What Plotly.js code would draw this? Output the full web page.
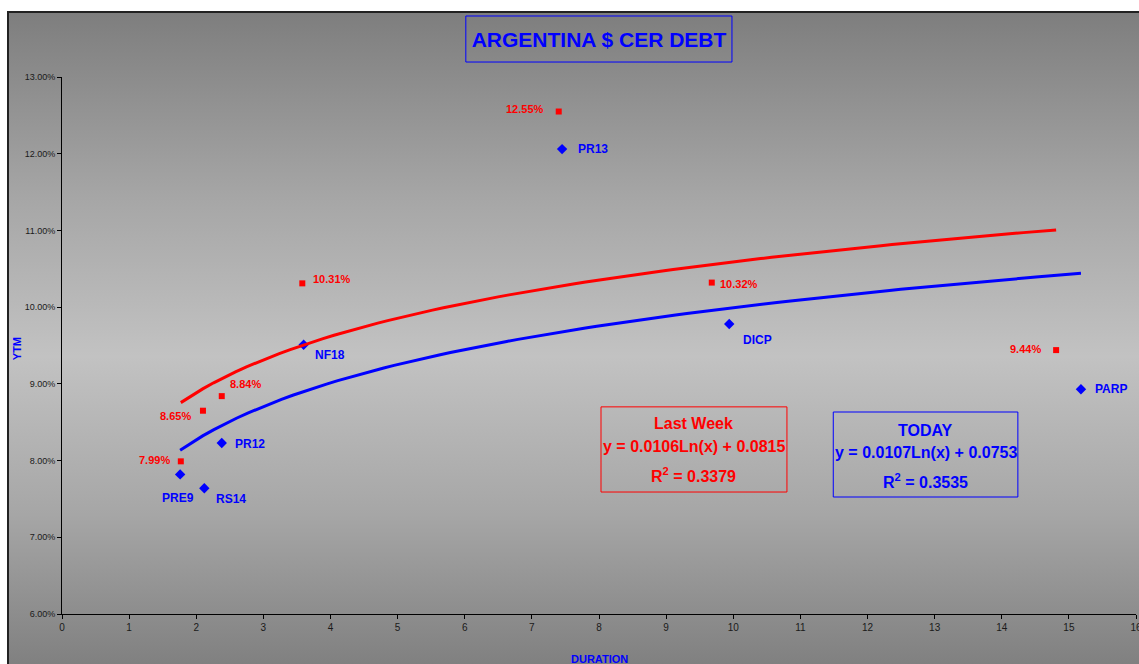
<!DOCTYPE html>
<html>
<head>
<meta charset="utf-8">
<script src="https://cdn.plot.ly/plotly-3.0.1.min.js"></script>
<style>
  html, body { margin: 0; padding: 0; background: #ffffff; overflow: hidden; }
  #frame {
    position: absolute; left: 7px; top: 11px; width: 1150px; height: 660px;
    border-left: 2px solid #222222; border-top: 2px solid #222222;
    background: linear-gradient(to bottom, #7e7e7e 0%, #a6a6a6 28%, #c2c2c2 52%, #a6a6a6 76%, #7e7e7e 100%);
  }
  #chart { position: absolute; left: 0; top: 0; width: 1139px; height: 664px; }
</style>
</head>
<body>
<div id="frame"></div>
<div id="chart"></div>
<script>
// Bonds priced today (duration in years, yield to maturity)
const bondNames = ['PRE9', 'RS14', 'PR12', 'NF18', 'PR13', 'DICP', 'PARP'];
const durationToday = [1.76, 2.12, 2.38, 3.60, 7.45, 9.94, 15.18];
const ytmToday = [0.0782, 0.0764, 0.0823, 0.0951, 0.1206, 0.0978, 0.0893];

// Same bonds one week earlier
const durationLastWeek = [1.77, 2.10, 2.38, 3.58, 7.40, 9.68, 14.81];
const ytmLastWeek = [0.0799, 0.0865, 0.0884, 0.1031, 0.1255, 0.1032, 0.0944];

// Logarithmic trend lines: y = slope * ln(x) + intercept
const slopeToday = 0.0107, interceptToday = 0.0753, r2Today = 0.3535;
const slopeLastWeek = 0.0106, interceptLastWeek = 0.0815, r2LastWeek = 0.3379;

const xTicks = [0, 1, 2, 3, 4, 5, 6, 7, 8, 9, 10, 11, 12, 13, 14, 15, 16];

const BLUE = '#0000ff';
const RED = '#ff0000';
const FONT = 'Arial, "Liberation Sans", sans-serif';

function logCurve(xs, slope, intercept) {
  const lo = Math.min(...xs), hi = Math.max(...xs);
  const px = [], py = [];
  const n = 80;
  for (let i = 0; i <= n; i++) {
    const x = lo + (hi - lo) * i / n;
    px.push(x);
    py.push(slope * Math.log(x) + intercept);
  }
  return { x: px, y: py };
}

const curveToday = logCurve(durationToday, slopeToday, interceptToday);
const curveLastWeek = logCurve(durationLastWeek, slopeLastWeek, interceptLastWeek);

const traces = [
  {
    x: durationToday, y: ytmToday, type: 'scatter', mode: 'markers',
    marker: { symbol: 'diamond', size: 8, color: BLUE }, hoverinfo: 'x+y'
  },
  {
    x: durationLastWeek, y: ytmLastWeek, type: 'scatter', mode: 'markers',
    marker: { symbol: 'square', size: 6, color: RED }, hoverinfo: 'x+y'
  },
  {
    x: curveLastWeek.x, y: curveLastWeek.y, type: 'scatter', mode: 'lines',
    line: { color: RED, width: 3 }, hoverinfo: 'skip'
  },
  {
    x: curveToday.x, y: curveToday.y, type: 'scatter', mode: 'lines',
    line: { color: BLUE, width: 3 }, hoverinfo: 'skip'
  }
];

// Label placement for each point: [xanchor, xshift, yshift]
const todayLabelPos = [
  ['center', -2, -24], ['left', 10, -11], ['left', 11, -1], ['left', 9, -10],
  ['left', 14, 0], ['left', 12, -16], ['left', 12, 0]
];
const lastWeekLabelPos = [
  ['right', -9, 1], ['right', -10, -5], ['left', 6, 12], ['left', 9, 4],
  ['right', -13, 3], ['left', 6, -1], ['right', -13, 1]
];

const annotations = [];
bondNames.forEach((name, i) => {
  const p = todayLabelPos[i];
  annotations.push({
    x: durationToday[i], y: ytmToday[i], xref: 'x', yref: 'y', text: name,
    showarrow: false, xanchor: p[0], yanchor: 'middle', xshift: p[1], yshift: p[2],
    font: { family: FONT, size: 12, color: BLUE, weight: 'bold' }
  });
});
ytmLastWeek.forEach((v, i) => {
  const p = lastWeekLabelPos[i];
  annotations.push({
    x: durationLastWeek[i], y: v, xref: 'x', yref: 'y', text: (v * 100).toFixed(2) + '%',
    showarrow: false, xanchor: p[0], yanchor: 'middle', xshift: p[1], yshift: p[2],
    font: { family: FONT, size: 11, color: RED, weight: 'bold' }
  });
});

// Regression summary boxes
function eqText(slope, intercept) {
  return 'y = ' + slope.toFixed(4) + 'Ln(x) + ' + intercept.toFixed(4);
}
function boxLines(cx, ys, lines, color) {
  lines.forEach((t, i) => {
    annotations.push({
      x: cx, y: ys[i], xref: 'x', yref: 'y', text: t, showarrow: false,
      xanchor: 'center', yanchor: 'middle',
      font: { family: FONT, size: 16, color: color, weight: 'bold' }
    });
  });
}
boxLines(9.415, [0.08477, 0.08177, 0.07812],
  ['Last Week', eqText(slopeLastWeek, interceptLastWeek), 'R<sup>2</sup> = ' + r2LastWeek.toFixed(4)], RED);
boxLines(12.865, [0.08398, 0.08111, 0.07733],
  ['TODAY', eqText(slopeToday, interceptToday), 'R<sup>2</sup> = ' + r2Today.toFixed(4)], BLUE);

// Axis titles
annotations.push({
  x: -0.0419, y: 0.495, xref: 'paper', yref: 'paper', text: 'YTM', textangle: -90,
  showarrow: false, xanchor: 'center', yanchor: 'middle',
  font: { family: FONT, size: 11, color: BLUE, weight: 'bold' }
});
annotations.push({
  x: 0.5, y: -0.0838, xref: 'paper', yref: 'paper', text: 'DURATION',
  showarrow: false, xanchor: 'center', yanchor: 'middle',
  font: { family: FONT, size: 11, color: BLUE, weight: 'bold' }
});

const shapes = [
  // frame around the chart title
  { type: 'rect', xref: 'paper', yref: 'paper', x0: 0.376, x1: 0.6238, y0: 1.0279, y1: 1.1136,
    line: { color: BLUE, width: 1 }, fillcolor: 'rgba(0,0,0,0)' },
  // last-week regression box
  { type: 'rect', xref: 'x', yref: 'y', x0: 8.03, x1: 10.80, y0: 0.0759, y1: 0.0870,
    line: { color: RED, width: 1 }, fillcolor: 'rgba(0,0,0,0)' },
  // today regression box
  { type: 'rect', xref: 'x', yref: 'y', x0: 11.49, x1: 14.24, y0: 0.07525, y1: 0.08633,
    line: { color: BLUE, width: 1 }, fillcolor: 'rgba(0,0,0,0)' }
];

const layout = {
  width: 1139, height: 664,
  margin: { l: 62, r: 3, t: 77, b: 50, pad: 0 },
  paper_bgcolor: 'rgba(0,0,0,0)',
  plot_bgcolor: 'rgba(0,0,0,0)',
  showlegend: false,
  title: {
    text: 'ARGENTINA $ CER DEBT',
    font: { family: FONT, size: 21, color: BLUE, weight: 'bold' },
    x: 0.5, xref: 'paper', xanchor: 'center',
    y: 1 - 40 / 664, yref: 'container', yanchor: 'middle'
  },
  xaxis: {
    range: [0, 16], tickvals: xTicks, ticktext: xTicks.map(String),
    showgrid: false, zeroline: false, showline: true, linecolor: '#000000', linewidth: 1,
    ticks: 'outside', ticklen: 4, tickcolor: '#000000',
    ticklabeloverflow: 'allow',
    tickfont: { family: FONT, size: 10, color: '#1a1a1a' }
  },
  yaxis: {
    range: [0.06, 0.13], dtick: 0.01, tick0: 0.06, tickformat: '.2%',
    showgrid: false, zeroline: false, showline: true, linecolor: '#000000', linewidth: 1,
    ticks: 'outside', ticklen: 4, tickcolor: '#000000',
    tickfont: { family: FONT, size: 9, color: '#1a1a1a' }
  },
  annotations: annotations,
  shapes: shapes
};

Plotly.newPlot('chart', traces, layout, { displayModeBar: false, staticPlot: true });
</script>
</body>
</html>
